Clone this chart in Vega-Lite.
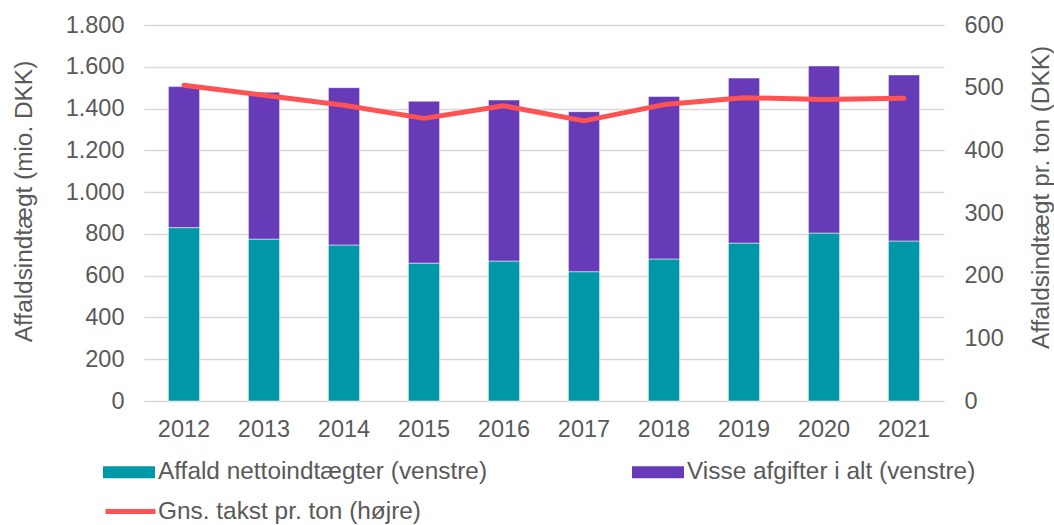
{
  "$schema": "https://vega.github.io/schema/vega-lite/v6.json",
  "autosize": "none",
  "width": 800,
  "height": 376,
  "padding": {"left": 144, "top": 25, "right": 110, "bottom": 124},
  "background": "white",
  "config": {
    "view": {"stroke": null},
    "font": "Liberation Sans",
    "axis": {"labelFont": "Liberation Sans", "titleFont": "Liberation Sans", "labelColor": "#595959", "titleColor": "#595959", "labelFontSize": 23.5, "titleFontSize": 24.4, "titleFontWeight": "normal"},
    "legend": {"labelFont": "Liberation Sans", "labelColor": "#595959", "labelFontSize": 24.4}
  },
  "data": {
    "values": [
      {"year": "2012", "series": "Affald nettoindtægter (venstre)", "value": 830},
      {"year": "2013", "series": "Affald nettoindtægter (venstre)", "value": 775},
      {"year": "2014", "series": "Affald nettoindtægter (venstre)", "value": 747},
      {"year": "2015", "series": "Affald nettoindtægter (venstre)", "value": 660},
      {"year": "2016", "series": "Affald nettoindtægter (venstre)", "value": 670},
      {"year": "2017", "series": "Affald nettoindtægter (venstre)", "value": 619},
      {"year": "2018", "series": "Affald nettoindtægter (venstre)", "value": 680},
      {"year": "2019", "series": "Affald nettoindtægter (venstre)", "value": 756},
      {"year": "2020", "series": "Affald nettoindtægter (venstre)", "value": 804},
      {"year": "2021", "series": "Affald nettoindtægter (venstre)", "value": 766},
      {"year": "2012", "series": "Visse afgifter i alt (venstre)", "value": 675},
      {"year": "2013", "series": "Visse afgifter i alt (venstre)", "value": 703},
      {"year": "2014", "series": "Visse afgifter i alt (venstre)", "value": 753},
      {"year": "2015", "series": "Visse afgifter i alt (venstre)", "value": 775},
      {"year": "2016", "series": "Visse afgifter i alt (venstre)", "value": 771},
      {"year": "2017", "series": "Visse afgifter i alt (venstre)", "value": 766},
      {"year": "2018", "series": "Visse afgifter i alt (venstre)", "value": 778},
      {"year": "2019", "series": "Visse afgifter i alt (venstre)", "value": 790},
      {"year": "2020", "series": "Visse afgifter i alt (venstre)", "value": 800},
      {"year": "2021", "series": "Visse afgifter i alt (venstre)", "value": 795},
      {"year": "2012", "series": "Gns. takst pr. ton (højre)", "value": 504},
      {"year": "2013", "series": "Gns. takst pr. ton (højre)", "value": 488},
      {"year": "2014", "series": "Gns. takst pr. ton (højre)", "value": 472},
      {"year": "2015", "series": "Gns. takst pr. ton (højre)", "value": 451},
      {"year": "2016", "series": "Gns. takst pr. ton (højre)", "value": 471},
      {"year": "2017", "series": "Gns. takst pr. ton (højre)", "value": 447},
      {"year": "2018", "series": "Gns. takst pr. ton (højre)", "value": 473},
      {"year": "2019", "series": "Gns. takst pr. ton (højre)", "value": 484},
      {"year": "2020", "series": "Gns. takst pr. ton (højre)", "value": 481},
      {"year": "2021", "series": "Gns. takst pr. ton (højre)", "value": 483}
    ]
  },
  "encoding": {
    "x": {
      "field": "year", "type": "ordinal",
      "scale": {"paddingInner": 0.61, "paddingOuter": 0.305},
      "axis": {"title": null, "labelAngle": 0, "ticks": false, "tickSize": 0, "domain": false, "labelPadding": 16, "grid": false}
    }
  },
  "layer": [
    {
      "transform": [{"filter": "datum.series !== 'Gns. takst pr. ton (højre)'"}],
      "mark": {"type": "bar", "stroke": "#ffffff", "strokeOpacity": 0.5, "strokeWidth": 1},
      "encoding": {
        "y": {
          "field": "value", "type": "quantitative", "stack": "zero",
          "scale": {"domain": [0, 1800]},
          "axis": {
            "title": "Affaldsindtægt (mio. DKK)",
            "values": [0, 200, 400, 600, 800, 1000, 1200, 1400, 1600, 1800],
            "labelExpr": "replace(format(datum.value, ','), ',', '.')",
            "ticks": false, "tickSize": 0, "domain": false, "labelPadding": 20,
            "grid": true, "gridColor": "#D9D9D9", "gridWidth": 1.5,
            "titleX": -120, "titleY": 176, "titleAngle": 270, "titleBaseline": "middle", "titleAlign": "center"
          }
        },
        "order": {"field": "series", "sort": "ascending"},
        "fill": {
          "field": "series", "type": "nominal",
          "scale": {
            "domain": ["Affald nettoindtægter (venstre)", "Visse afgifter i alt (venstre)"],
            "range": ["#0097A7", "#673AB7"]
          },
          "legend": {
            "title": null,
            "orient": "none",
            "legendX": -41,
            "legendY": 421,
            "direction": "horizontal",
            "columns": 2,
            "columnPadding": 145,
            "symbolType": "M-1,-0.23H1V0.23H-1Z",
            "symbolSize": 2704,
            "symbolStrokeWidth": 0,
            "symbolOpacity": 1,
            "labelOffset": 3,
            "labelLimit": 500
          }
        }
      }
    },
    {
      "transform": [{"filter": "datum.series === 'Gns. takst pr. ton (højre)'"}],
      "mark": {"type": "line", "strokeWidth": 5, "strokeCap": "round", "strokeJoin": "round"},
      "encoding": {
        "y": {
          "field": "value", "type": "quantitative",
          "scale": {"domain": [0, 600]},
          "axis": {
            "title": "Affaldsindtægt pr. ton (DKK)",
            "orient": "right",
            "values": [0, 100, 200, 300, 400, 500, 600],
            "ticks": false, "tickSize": 0, "domain": false, "labelPadding": 20, "grid": false,
            "titleX": 97, "titleY": 172, "titleAngle": 270, "titleBaseline": "middle", "titleAlign": "center"
          }
        },
        "stroke": {
          "field": "series", "type": "nominal",
          "scale": {"domain": ["Gns. takst pr. ton (højre)"], "range": ["#FF5252"]},
          "legend": {
            "title": null,
            "orient": "none",
            "legendX": -41,
            "legendY": 459,
            "symbolType": "stroke",
            "symbolSize": 2500,
            "symbolStrokeWidth": 5,
            "labelOffset": 0,
            "labelLimit": 500
          }
        }
      }
    }
  ],
  "resolve": {"scale": {"y": "independent"}}
}
